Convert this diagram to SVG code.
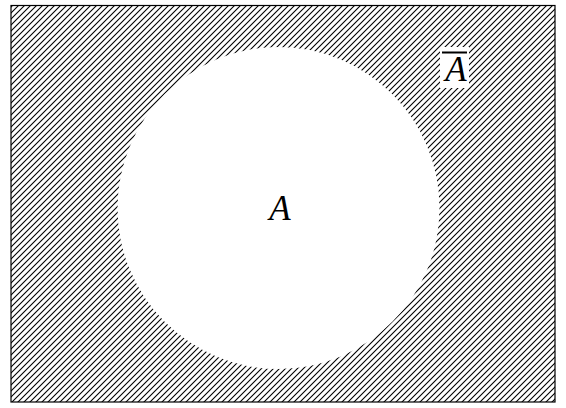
<svg xmlns="http://www.w3.org/2000/svg" width="566" height="408" viewBox="0 0 566 408">
<defs>
<pattern id="hatch" patternUnits="userSpaceOnUse" width="6" height="6">
<path d="M-1,1 L1,-1 M0,6 L6,0 M5,7 L7,5" stroke="#000" stroke-width="1.1"/>
</pattern>
<style>
.lbl{font-family:"Liberation Serif","Times New Roman",serif;font-style:italic;font-size:35px;fill:#000;text-anchor:middle}
</style>
</defs>
<rect width="566" height="408" fill="#fff"/>
<g id="universe">
<rect x="11" y="5.5" width="544" height="396.5" fill="url(#hatch)" stroke="#000" stroke-width="1.2"/>
</g>
<g id="setA">
<circle cx="278.5" cy="208" r="161" fill="#fff"/>
<text class="lbl" x="280" y="220">A</text>
</g>
<g id="complementA">
<rect x="440" y="47" width="29" height="41" fill="#fff"/>
<line x1="442" y1="52.5" x2="467" y2="52.5" stroke="#000" stroke-width="2"/>
<text class="lbl" x="456" y="81">A</text>
</g>
<g id="connectors"/>
</svg>
